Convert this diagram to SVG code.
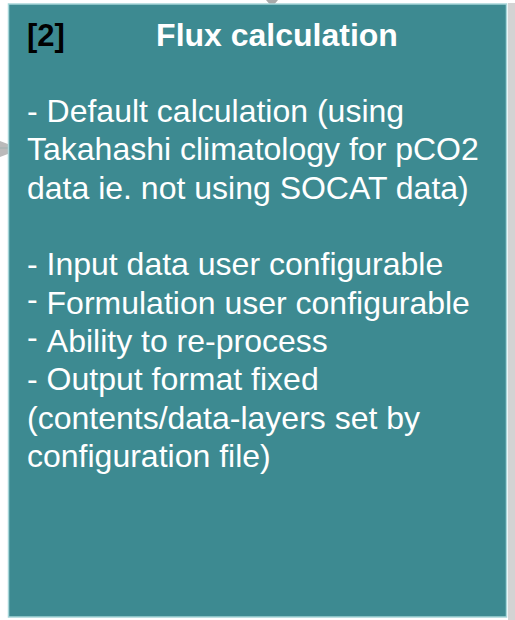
<svg xmlns="http://www.w3.org/2000/svg" width="515" height="620" viewBox="0 0 515 620">
  <style>
    .box { fill: #3d8a91; stroke: #a6d6d9; stroke-width: 1.5; }
    .shadow { fill: #d3d3d3; }
    .title { font-family: "Liberation Sans", Arial, sans-serif; font-weight: bold; font-size: 32px; fill: #ffffff; }
    .tag { font-family: "Liberation Sans", Arial, sans-serif; font-weight: bold; font-size: 31px; fill: #000000; }
    .body { font-family: "Liberation Sans", Arial, sans-serif; font-size: 32px; fill: #ffffff; }
    .edge { stroke: #b8e3e6; stroke-width: 2; fill: none; }
    .head { fill: #a9a9a9; }
  </style>
  <rect width="515" height="620" fill="#ffffff"/>

  <g id="connectors">
    <line class="edge" x1="0" y1="148" x2="10" y2="148"/>
    <line class="edge" x1="508" y1="148" x2="515" y2="148"/>
    <line class="edge" x1="508" y1="345" x2="515" y2="345"/>
    <polygon class="head" points="0,141 21,149 0,157" opacity="0.8"/>
    <polygon class="head" points="266,0 278,0 272,7"/>
  </g>

  <g id="flux-calculation">
    <rect class="shadow" x="508" y="3" width="7" height="617"/>
    <rect class="box" x="8.5" y="4" width="498" height="613"/>
    <text class="tag" x="27" y="46">[2]</text>
    <text class="title" x="277" y="46" text-anchor="middle">Flux calculation</text>
    <text class="body" x="27">
      <tspan x="27" y="122">- Default calculation (using</tspan>
      <tspan x="27" y="160">Takahashi climatology for pCO2</tspan>
      <tspan x="27" y="199">data ie. not using SOCAT data)</tspan>
      <tspan x="27" y="275">- Input data user configurable</tspan>
      <tspan x="27" y="310">-</tspan><tspan y="314"> Formulation user configurable</tspan>
      <tspan x="27" y="348">-</tspan><tspan y="352" dx="2"> Ability to re-process</tspan>
      <tspan x="27" y="390">- Output format fixed</tspan>
      <tspan x="27" y="429">(contents/data-layers set by</tspan>
      <tspan x="27" y="467">configuration file)</tspan>
    </text>
  </g>
</svg>
